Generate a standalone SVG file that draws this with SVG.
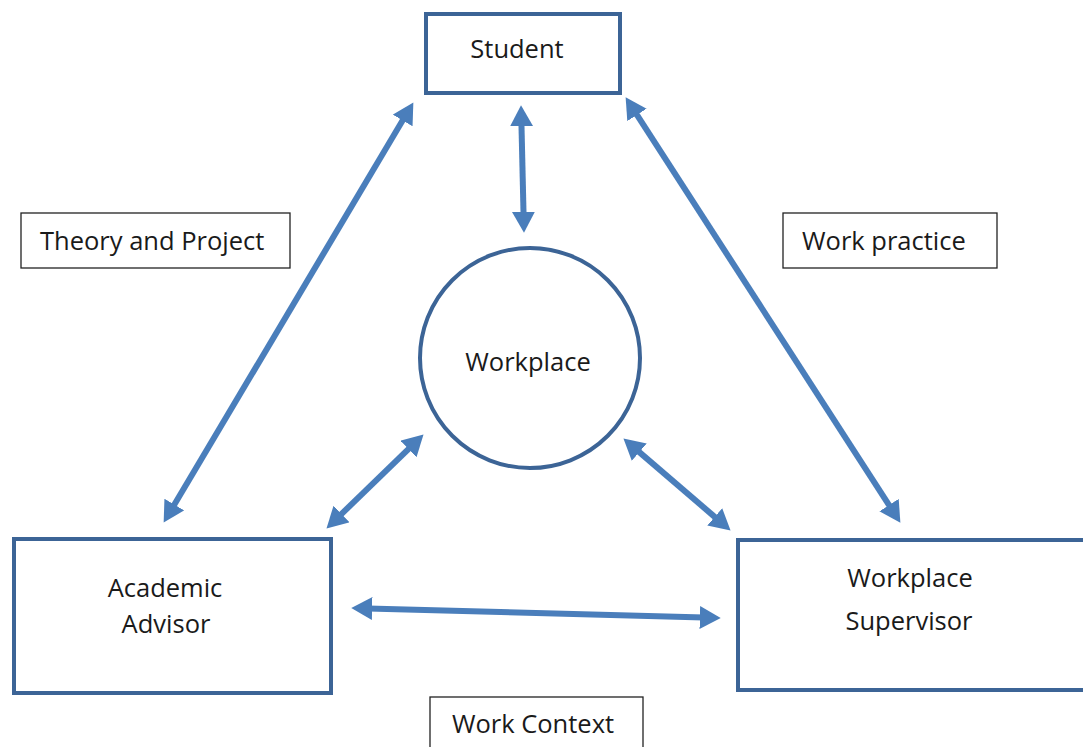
<svg xmlns="http://www.w3.org/2000/svg" width="1083" height="747" viewBox="0 0 1083 747">
  <style>
    .node { fill: #ffffff; stroke: #3c6496; stroke-width: 4; }
    .label { fill: #ffffff; stroke: #222222; stroke-width: 1.3; }
    .txt { font-family: "Open Sans", Lato, "Liberation Sans", sans-serif; font-size: 25.5px; fill: #1a1a1a; text-anchor: middle; }
    .txt-l { text-anchor: start; }
    .link { stroke: #4a7ebb; stroke-width: 6; fill: none; marker-start: url(#head); marker-end: url(#head); }
  </style>
  <defs>
    <marker id="head" markerUnits="userSpaceOnUse" viewBox="0 0 20 22" markerWidth="21" markerHeight="23" refX="4" refY="11" orient="auto-start-reverse">
      <path d="M0,0 L20,11 L0,22 z" fill="#4a7ebb"/>
    </marker>
  </defs>
  <rect width="1083" height="747" fill="#ffffff"/>

  <!-- connectors: double-headed arrows between the four parties -->
  <g id="connectors">
    <line class="link" x1="404.8" y1="116.8" x2="172.2" y2="508.2"/>
    <line class="link" x1="521.4" y1="122" x2="523.6" y2="216"/>
    <line class="link" x1="634.7" y1="111.4" x2="891.3" y2="508.6"/>
    <line class="link" x1="411.5" y1="446.1" x2="338.5" y2="516.9"/>
    <line class="link" x1="636.1" y1="449.4" x2="717.9" y2="519.6"/>
    <line class="link" x1="368" y1="608.4" x2="704" y2="617.6"/>
  </g>

  <g id="student">
    <rect class="node" x="426" y="14" width="194" height="79"/>
    <text class="txt" x="517" y="58">Student</text>
  </g>

  <g id="workplace">
    <circle class="node" cx="530" cy="358" r="110" stroke-width="3.5"/>
    <text class="txt" x="528" y="371">Workplace</text>
  </g>

  <g id="academic-advisor">
    <rect class="node" x="14" y="539" width="317" height="154"/>
    <text class="txt" x="165" y="597">Academic</text>
    <text class="txt" x="166" y="633">Advisor</text>
  </g>

  <g id="workplace-supervisor">
    <rect class="node" x="738" y="540" width="360" height="150"/>
    <text class="txt" x="910" y="587">Workplace</text>
    <text class="txt" x="909" y="630">Supervisor</text>
  </g>

  <g id="theory-and-project">
    <rect class="label" x="21" y="213" width="269" height="55"/>
    <text class="txt txt-l" x="40" y="250">Theory and Project</text>
  </g>

  <g id="work-practice">
    <rect class="label" x="783" y="213" width="214" height="55"/>
    <text class="txt txt-l" x="802" y="250">Work practice</text>
  </g>

  <g id="work-context">
    <rect class="label" x="430" y="697" width="213" height="60"/>
    <text class="txt" x="533" y="733">Work Context</text>
  </g>
</svg>
